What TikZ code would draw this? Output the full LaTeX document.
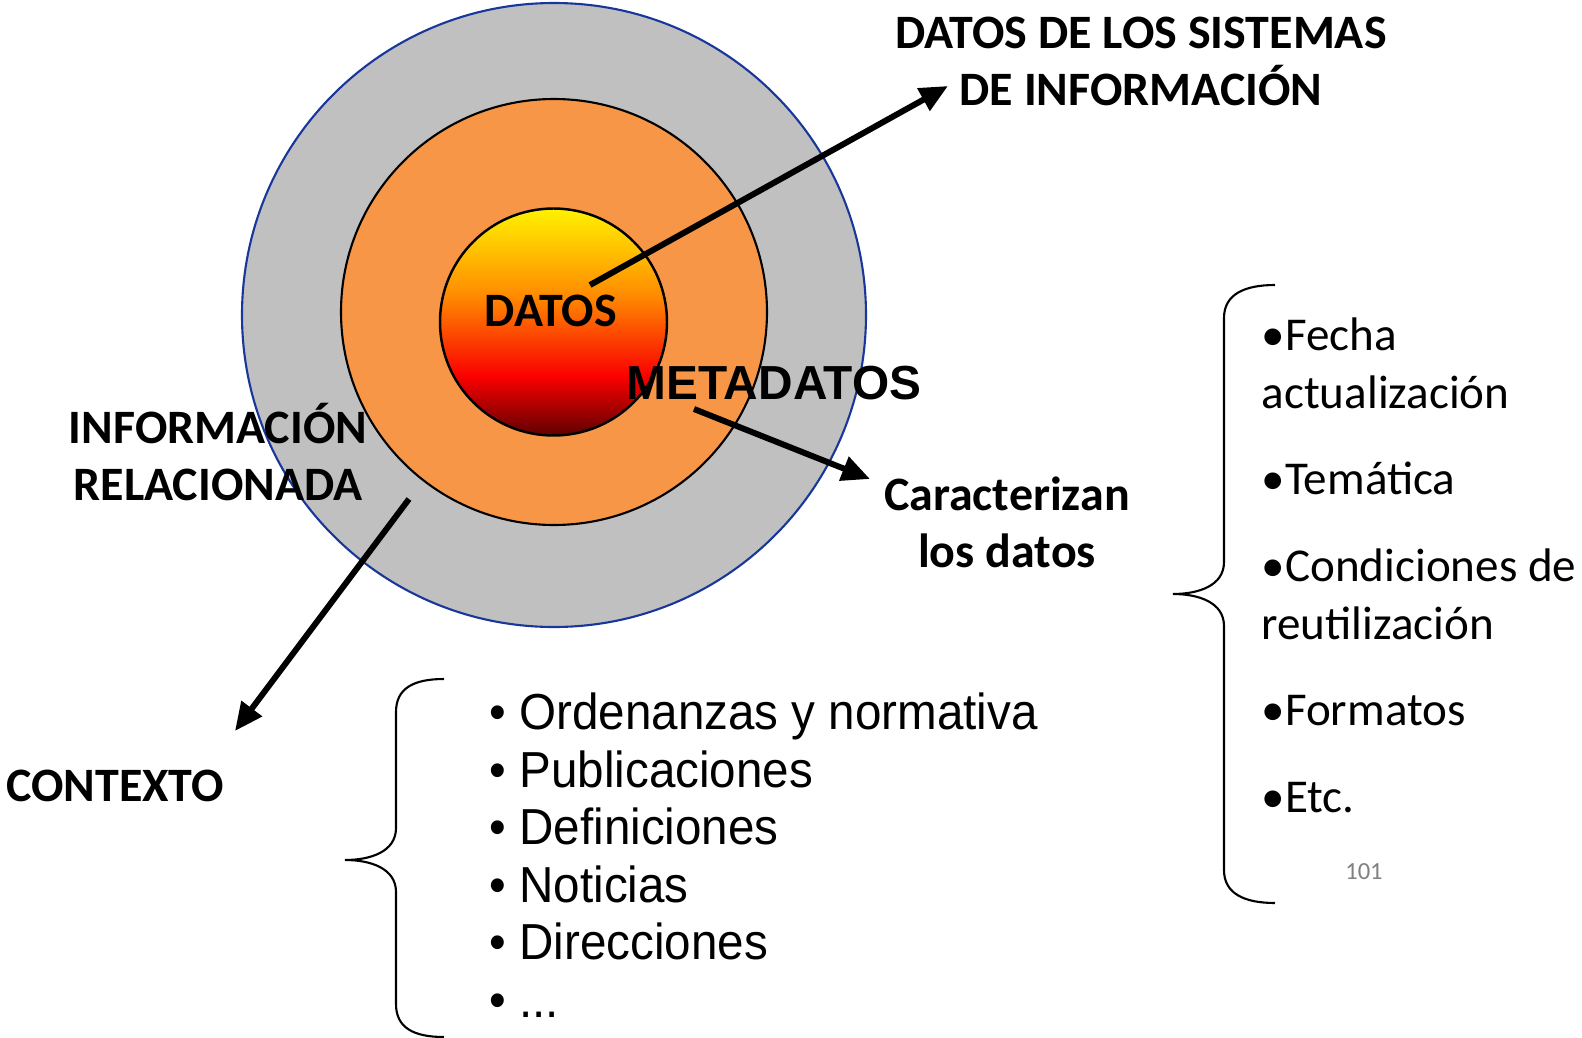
\documentclass[tikz,border=0pt]{standalone}
\usepackage{fontspec}
\setmainfont{Carlito}
\newfontfamily\arialfont{Liberation Sans}
\newfontfamily\listfont[FakeStretch=0.94]{Liberation Sans}
\usetikzlibrary{arrows.meta}
\definecolor{ringgrey}{RGB}{192,192,192}
\definecolor{ringorange}{RGB}{247,150,70}
\definecolor{ringblue}{RGB}{25,55,155}
\definecolor{coredark}{RGB}{95,0,0}
\definecolor{corered}{RGB}{250,0,0}
\definecolor{coreorange}{RGB}{255,140,0}
\definecolor{coreyellow}{RGB}{255,242,0}
\pgfdeclareverticalshading{datoscore}{100bp}{color(0bp)=(coredark); color(25bp)=(coredark); color(38bp)=(corered); color(56bp)=(coreorange); color(75bp)=(coreyellow); color(100bp)=(coreyellow)}

\begin{document}
\begin{tikzpicture}[x=0.1mm,y=-0.1mm,>={Triangle[length=8pt,width=7pt]},
  lbl/.style={font=\bfseries\fontsize{13.65}{16.2}\selectfont,align=center,inner sep=0pt},
  ritem/.style={anchor=base west,inner sep=0pt,font=\fontsize{13.4}{16}\selectfont},
  bitem/.style={anchor=base west,inner sep=0pt,font=\listfont\fontsize{14.4}{16}\selectfont},
  pointer/.style={->,line width=1.7pt},
  curly/.style={line width=0.6pt}]
\useasboundingbox (0,0) rectangle (1582,1038);
% rings
\filldraw[fill=ringgrey,draw=ringblue,line width=0.6pt] (554,315) circle[radius=312];
\filldraw[fill=ringorange,draw=black,line width=0.6pt] (554,312) circle[radius=213];
\shade[shading=datoscore] (553.5,322) circle[radius=113.5];
\draw[line width=0.7pt] (553.5,322) circle[radius=113.5];
% labels
\node[lbl] (datos) at (551,311) {DATOS};
\node[font=\arialfont\bfseries\fontsize{13.6}{16}\selectfont,inner sep=0pt] (meta) at (774,383) {METADATOS};
\node[lbl] (relac) at (218,452) {INFORMACIÓN\\RELACIONADA};
\node[lbl] (sis) at (1141,61) {DATOS DE LOS SISTEMAS\\DE INFORMACIÓN};
\node[lbl] (caract) at (1007,522) {Caracterizan\\los datos};
\node[lbl] (ctx) at (115,786) {CONTEXTO};
% arrows
\coordinate (s1) at (590,285);\coordinate (e1) at (948,86);
\coordinate (s2) at (694,409);\coordinate (e2) at (870,479);
\coordinate (s3) at (409,499);\coordinate (e3) at (235,731);
\draw[pointer] (s1)--(e1);\draw[pointer] (s2)--(e2);\draw[pointer] (s3)--(e3);
% right list
\foreach \txt/\yy [count=\i] in {•Fecha/350,actualización/408,•Temática/494,•Condiciones de/581,reutilización/639,•Formatos/725,•Etc./812}
  \node[ritem] (r\i) at (1261,\yy) {\txt};
\node[text=gray,font=\fontsize{7}{8}\selectfont,inner sep=0pt] (pg) at (1364,872) {101};
\draw[curly] (1275,285) .. controls (1245,285) and (1224,294) .. (1224,318) -- (1224,562)
  .. controls (1224,586) and (1198,594) .. (1173,594) .. controls (1198,594) and (1224,602) .. (1224,626)
  -- (1224,870) .. controls (1224,894) and (1245,903) .. (1275,903);
% bottom list
\foreach \txt/\yy [count=\i] in {Ordenanzas y normativa/729,Publicaciones/787,Definiciones/844,Noticias/902,Direcciones/959}
  \node[bitem] (b\i) at (489,\yy) {•~\txt};
\node[bitem] (b6) at (489,1017) {•~...};
\draw[curly] (444,679) .. controls (414,679) and (396,688) .. (396,712) -- (396,828)
  .. controls (396,852) and (370,860) .. (345,860) .. controls (370,860) and (396,868) .. (396,892)
  -- (396,1004) .. controls (396,1028) and (414,1037) .. (444,1037);
\end{tikzpicture}
\end{document}
